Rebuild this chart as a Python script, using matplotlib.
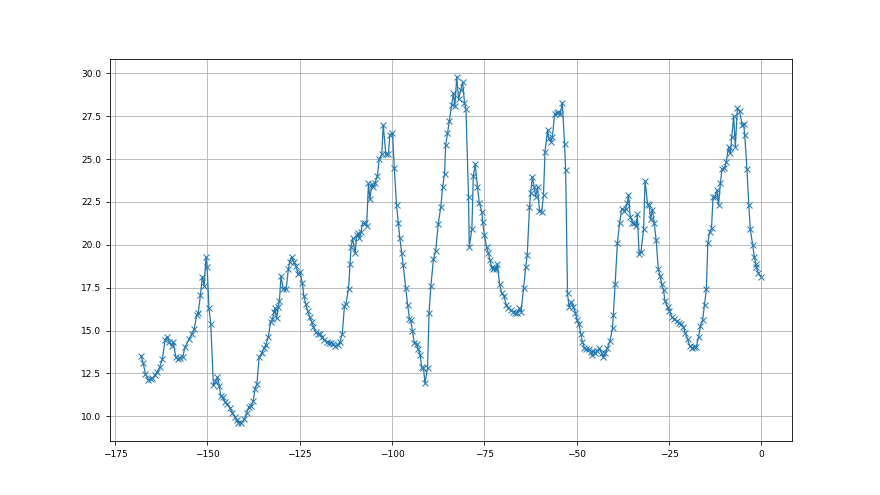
import matplotlib
matplotlib.use("Agg")
import matplotlib.pyplot as plt

# hours relative to now, and the reading at each hour
hours = [
    -168.0, -167.4, -166.8, -166.0, -165.4, -164.9, -164.2, -163.6, -162.9, -162.2,
    -161.5, -160.9, -160.3, -159.7, -159.3, -158.6, -158.1, -157.4, -156.7, -156.1,
    -155.0, -154.3, -153.6, -152.9, -152.5, -151.9, -151.4, -150.9, -150.4, -150.1,
    -149.6, -149.1, -148.4, -147.8, -147.3, -146.8, -146.4, -145.9, -145.3, -144.6,
    -143.9, -143.3, -142.6, -142.1, -141.6, -140.9, -140.0, -139.4, -138.8, -138.2,
    -137.6, -137.1, -136.6, -136.0, -135.3, -134.7, -134.2, -133.5, -132.9, -132.4,
    -131.9, -131.7, -131.3, -130.8, -130.5, -130.1, -129.5, -128.7, -128.1, -127.7,
    -127.2, -126.7, -126.1, -125.4, -124.9, -124.3, -123.9, -123.4, -122.9, -122.3,
    -121.8, -121.3, -120.7, -120.2, -119.5, -118.9, -118.4, -117.7, -117.2, -116.5,
    -115.9, -115.4, -114.7, -114.1, -113.5, -112.9, -112.5, -111.8, -111.4, -111.1,
    -110.7, -110.0, -109.6, -109.1, -108.9, -108.4, -108.0, -107.3, -106.9, -106.4,
    -106.0, -105.5, -105.1, -104.6, -104.0, -103.5, -102.8, -102.4, -101.7, -101.0,
    -100.6, -99.9, -99.4, -98.8, -98.3, -97.9, -97.4, -97.0, -96.3, -95.8,
    -95.3, -95.0, -94.5, -94.0, -93.3, -92.9, -92.4, -92.0, -91.5, -91.1,
    -90.4, -90.0, -89.5, -88.8, -88.2, -87.5, -86.8, -86.3, -85.8, -85.5,
    -85.0, -84.5, -83.9, -83.4, -83.0, -82.5, -82.0, -81.4, -80.9, -80.4,
    -80.0, -79.3, -79.1, -78.4, -78.0, -77.5, -76.9, -76.4, -75.7, -75.5,
    -75.0, -74.4, -73.9, -73.5, -73.0, -72.7, -72.3, -71.8, -71.5, -70.9,
    -70.3, -69.7, -69.1, -68.5, -67.9, -67.3, -66.7, -66.1, -65.5, -65.1,
    -64.4, -63.8, -63.4, -62.8, -62.5, -62.0, -61.5, -61.1, -60.6, -60.1,
    -59.5, -59.0, -58.6, -57.9, -57.5, -57.0, -56.6, -56.0, -55.4, -55.0,
    -54.5, -53.9, -53.3, -53.0, -52.5, -52.1, -51.5, -50.9, -50.4, -49.9,
    -49.4, -48.9, -48.5, -47.9, -47.5, -46.8, -46.2, -45.9, -45.5, -45.0,
    -44.4, -43.9, -43.2, -42.8, -42.3, -41.7, -41.0, -40.3, -40.1, -39.6,
    -39.0, -38.4, -37.8, -37.2, -36.7, -36.3, -36.0, -35.5, -34.9, -34.4,
    -33.9, -33.6, -33.1, -32.6, -31.9, -31.5, -30.8, -30.4, -30.0, -29.5,
    -29.0, -28.5, -27.9, -27.4, -27.0, -26.5, -26.1, -25.4, -24.9, -24.3,
    -23.6, -22.9, -22.3, -21.7, -21.1, -20.6, -20.0, -19.4, -18.8, -18.2,
    -17.6, -17.0, -16.5, -15.9, -15.4, -14.9, -14.5, -14.0, -13.5, -13.1,
    -12.6, -12.0, -11.6, -11.1, -10.7, -10.0, -9.5, -8.9, -8.4, -8.0,
    -7.5, -7.05, -6.5, -5.9, -5.2, -4.8, -4.5, -3.9, -3.4, -3.0,
    -2.35, -1.9, -1.54, -1.36, -0.9, -0.1,
]

temps = [
    13.54, 13.09, 12.47, 12.12, 12.16, 12.21, 12.41, 12.56, 12.89, 13.34,
    14.45, 14.64, 14.35, 14.10, 14.35, 13.48, 13.32, 13.42, 13.48, 14.02,
    14.50, 14.78, 15.07, 15.91, 16.04, 17.07, 18.14, 17.60, 19.27, 18.73,
    16.30, 15.38, 11.83, 12.02, 12.27, 11.79, 11.18, 11.11, 10.85, 10.72,
    10.46, 10.21, 9.98, 9.75, 9.63, 9.59, 9.82, 10.20, 10.55, 10.60,
    10.90, 11.60, 11.90, 13.44, 13.67, 13.96, 14.16, 14.64, 15.52, 15.65,
    16.10, 16.30, 15.71, 16.39, 16.74, 18.18, 17.40, 17.40, 18.57, 19.02,
    19.31, 19.02, 18.75, 18.30, 18.40, 17.76, 17.02, 16.55, 16.16, 15.77,
    15.52, 15.23, 14.90, 14.80, 14.80, 14.65, 14.45, 14.35, 14.30, 14.26,
    14.20, 14.12, 14.16, 14.35, 14.80, 16.43, 16.55, 17.44, 18.90, 19.89,
    20.38, 19.50, 20.57, 20.67, 20.38, 20.77, 21.25, 21.25, 21.10, 23.58,
    22.65, 23.55, 23.35, 23.62, 24.01, 24.98, 25.29, 26.99, 25.29, 25.29,
    26.40, 26.54, 24.46, 22.32, 21.25, 20.38, 19.50, 18.82, 17.46, 16.50,
    15.70, 15.62, 15.00, 14.30, 14.22, 13.91, 13.58, 12.86, 12.80, 11.93,
    12.80, 16.01, 17.60, 19.16, 19.66, 21.22, 22.23, 23.40, 24.13, 25.82,
    26.50, 27.24, 28.16, 28.84, 28.10, 29.81, 28.49, 29.03, 29.50, 28.30,
    27.90, 22.81, 19.90, 20.91, 24.02, 24.72, 23.40, 22.46, 21.94, 21.35,
    20.58, 19.86, 19.51, 19.12, 18.69, 18.57, 18.63, 18.57, 18.88, 17.72,
    17.17, 17.02, 16.50, 16.30, 16.20, 16.10, 16.00, 16.00, 16.30, 16.10,
    17.46, 18.73, 19.41, 22.19, 23.00, 23.97, 23.35, 22.81, 23.35, 21.99,
    21.93, 22.90, 25.43, 26.69, 26.21, 26.01, 26.27, 27.63, 27.71, 27.76,
    27.63, 28.29, 25.88, 24.36, 17.17, 16.39, 16.68, 16.40, 16.05, 15.61,
    15.38, 14.79, 14.35, 13.96, 13.90, 13.90, 13.76, 13.57, 13.82, 13.71,
    13.82, 13.96, 13.67, 13.43, 13.67, 13.96, 14.41, 15.12, 15.90, 17.71,
    20.08, 21.25, 22.12, 21.99, 22.12, 22.45, 22.90, 21.64, 21.29, 21.25,
    21.09, 21.79, 19.46, 19.59, 20.90, 23.73, 22.37, 22.32, 21.48, 22.06,
    21.25, 20.28, 18.57, 18.18, 17.71, 17.36, 16.74, 16.35, 16.15, 15.80,
    15.65, 15.57, 15.42, 15.37, 15.20, 14.85, 14.49, 14.10, 13.97, 14.03,
    14.06, 14.65, 15.27, 15.62, 16.49, 17.41, 20.09, 20.77, 20.96, 22.77,
    22.77, 23.20, 22.32, 23.59, 24.40, 24.46, 24.85, 25.69, 25.34, 26.31,
    27.51, 25.73, 27.96, 27.80, 26.99, 27.03, 26.41, 24.40, 22.32, 20.90,
    19.99, 19.31, 18.88, 18.73, 18.38, 18.15,
]

fig, ax = plt.subplots(figsize=(8.8, 4.95), dpi=100)
ax.plot(hours, temps, color="#1f77b4", marker="x", markersize=4,
        markeredgewidth=0.7, linewidth=0.9)
ax.grid(True, color="#b0b0b0", linewidth=0.6)
ax.tick_params(labelsize=6.5, width=0.6, length=3)
for side in ax.spines.values():
    side.set_linewidth(0.6)

fig.savefig("out.png", dpi=100)
